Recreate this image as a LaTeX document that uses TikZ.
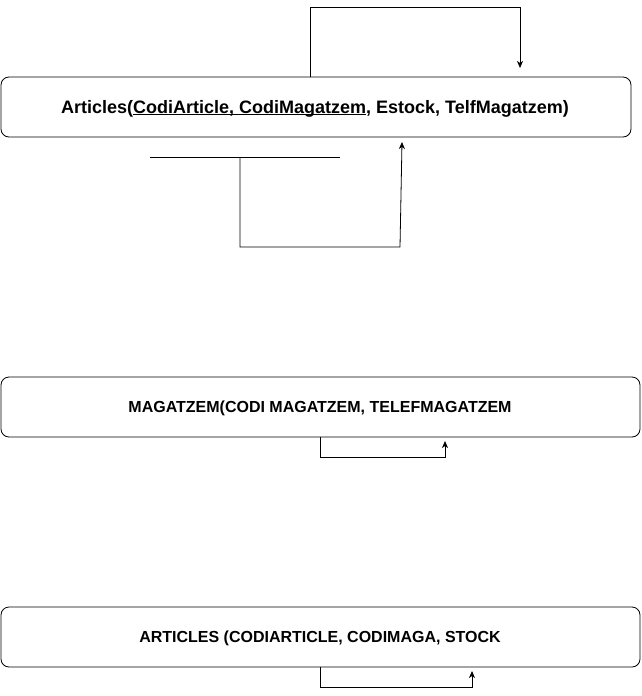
\documentclass[tikz,border=0pt]{standalone}
\usepackage{fontspec}
\setmainfont{Liberation Sans}
\usetikzlibrary{arrows.meta}
\newcommand{\myul}[1]{\setbox0\hbox{#1}\rlap{\rule[-2.2pt]{\wd0}{0.9pt}}\box0}
\tikzset{
  relbox/.style={draw, line width=0.8pt, rounded corners=8pt, inner sep=0pt},
  conn/.style={draw, line width=0.8pt},
  arr/.style={conn, -{Stealth[length=7pt,width=6pt,inset=2pt]}},
  lbl/.style={font=\bfseries\fontsize{18}{21}\selectfont},
  lbls/.style={font=\bfseries\fontsize{16}{19}\selectfont}
}
\begin{document}
\begin{tikzpicture}[x=1pt,y=-1pt]
\useasboundingbox (0,0) rectangle (641,696);
% boxes
\draw[relbox] (1,77) rectangle (631,137);
\node[lbl] (t1) at (315,108.5) {Articles(\myul{CodiArticle, CodiMagatzem}, Estock, TelfMagatzem)};
\draw[relbox] (1,377) rectangle (640,437);
\node[lbls] (t2) at (320,408.5) {MAGATZEM(CODI MAGATZEM, TELEFMAGATZEM};
\draw[relbox] (1,607) rectangle (640,667);
\node[lbls] (t3) at (320,638.5) {ARTICLES (CODIARTICLE, CODIMAGA, STOCK};
% top connector
\coordinate (a1) at (310,77);
\coordinate (a2) at (310,7);
\coordinate (a3) at (520,7);
\coordinate (a4) at (520,68);
\draw[arr] (a1) -- (a2) -- (a3) -- (a4);
% line under box 1
\coordinate (h1) at (150,157);
\coordinate (h2) at (340,157);
\draw[conn] (h1) -- (h2);
\coordinate (c1) at (240,157);
\coordinate (c2) at (240,247);
\coordinate (c3) at (400,247);
\coordinate (c4) at (402,142);
\draw[arr] (c1) -- (c2) -- (c3) -- (c4);
% box 2 connector
\coordinate (d1) at (320,437);
\coordinate (d2) at (320,457);
\coordinate (d3) at (445,457);
\coordinate (d4) at (445,441);
\draw[arr] (d1) -- (d2) -- (d3) -- (d4);
% box 3 connector
\coordinate (e1) at (320,667);
\coordinate (e2) at (320,687);
\coordinate (e3) at (472,687);
\coordinate (e4) at (472,671);
\draw[arr] (e1) -- (e2) -- (e3) -- (e4);
\end{tikzpicture}
\end{document}
